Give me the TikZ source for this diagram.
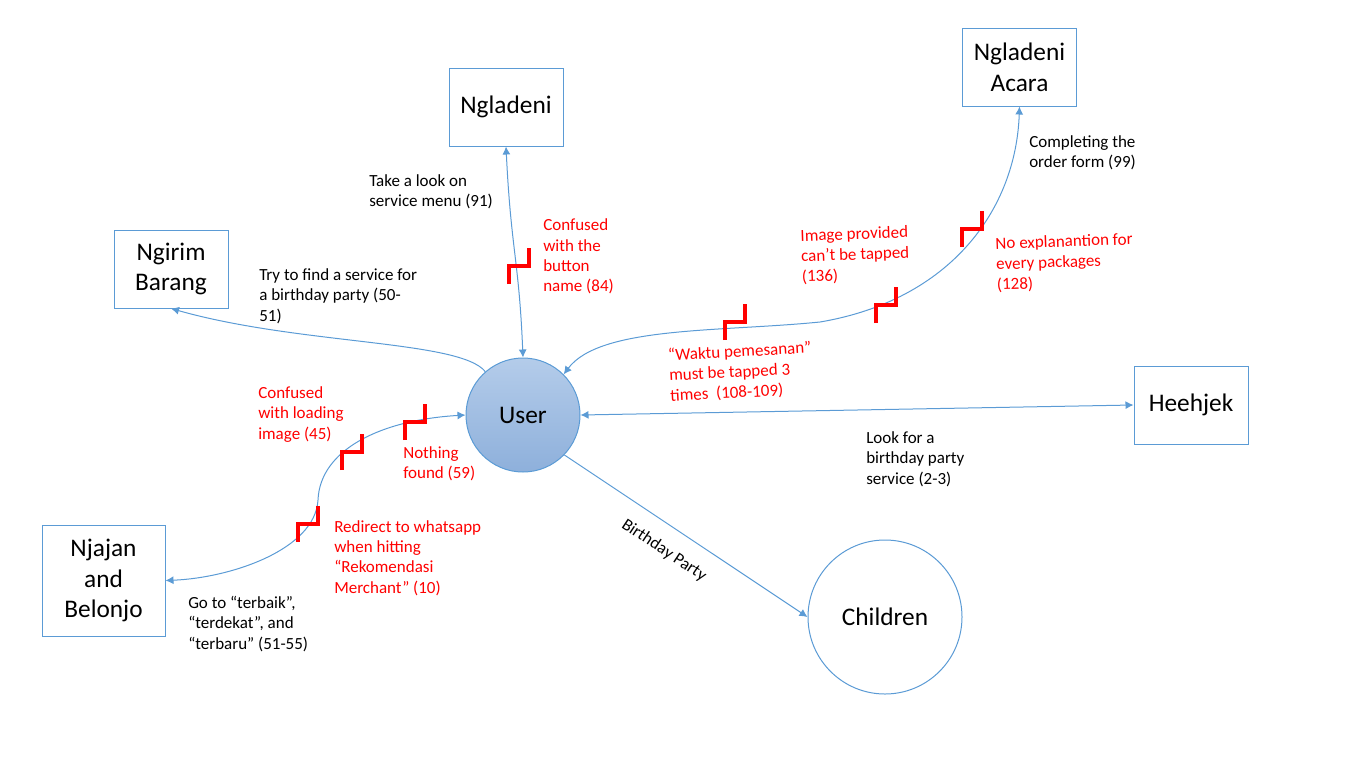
\documentclass[tikz,border=0pt]{standalone}
\usepackage{fontspec}
\setmainfont{Carlito}
\usepackage{tikz}
\usetikzlibrary{arrows.meta,positioning,calc}
\definecolor{uxblue}{HTML}{5B9BD5}
\definecolor{uxtop}{HTML}{B4CCEA}
\definecolor{uxbottom}{HTML}{8EB0DB}
\definecolor{uxred}{HTML}{FF0000}
\tikzset{
  uxbox/.style={draw=uxblue,line width=0.75pt,fill=white,font=\fontsize{19}{23}\selectfont,minimum width=85.5pt,minimum height=58.5pt,align=center,inner sep=2pt},
  uxcircle/.style={circle,draw=uxblue,line width=0.75pt,font=\fontsize{19}{23}\selectfont,inner sep=2pt},
  uxlink/.style={draw=uxblue,line width=0.75pt,->},
  uxboth/.style={draw=uxblue,line width=0.75pt,<->},
  uxnote/.style={font=\fontsize{12.75}{15.3}\selectfont,align=left,inner sep=0pt,anchor=west},
  uxissue/.style={uxnote,text=uxred},
  uxbreak/.pic={\draw[uxred,line width=3pt] (-10,18) -- (-10,0) -- (10,0) -- (10,-18);}
}
\begin{document}
\begin{tikzpicture}[x=0.75pt,y=-0.75pt,>={Latex[length=6pt,width=6pt]}]
\useasboundingbox (0,0) rectangle (1366,768);
% pages
\node[uxbox] (ngladeni) at (506,107) {Ngladeni};
\node[uxbox] (acara) at (1019.5,67) {Ngladeni\\Acara};
\node[uxbox] (ngirim) at (171,269) {Ngirim\\Barang};
\node[uxbox] (heehjek) at (1191,405) {Heehjek};
\node[uxbox,minimum width=92.25pt,minimum height=83.25pt] (njajan) at (103.5,580.5) {Njajan\\and\\Belonjo};
\node[uxcircle,top color=uxtop,bottom color=uxbottom,minimum size=85.5pt] (user) at (523,415) {User};
\node[uxcircle,fill=white,minimum size=115.5pt] (children) at (885,617) {Children};
% flows
\draw[uxboth] (user.north) .. controls (519,260) and (511,250) .. (ngladeni.south);
\draw[uxboth] (acara.south) .. controls (1016,210) and (950,300) .. (820,322) .. controls (720,332) and (600,326) .. (user.45);
\draw[uxlink] (user.131) .. controls (460,340) and (300,345) .. (ngirim.south);
\draw[uxboth] (user.east) -- (heehjek.west);
\draw[uxboth] (user.west) .. controls (380,420) and (320,450) .. (318,500) .. controls (315,550) and (230,578) .. (njajan.east);
\draw[uxlink] (user.-44) -- node[pos=0.465,sloped,below=9pt,font=\fontsize{12.75}{15.3}\selectfont] (bday) {Birthday Party} (children.west);
% breakdowns
\pic at (519,266) {uxbreak};
\pic at (415,422) {uxbreak};
\pic at (352,452) {uxbreak};
\pic at (308,524) {uxbreak};
\pic at (735,322) {uxbreak};
\pic at (886,305) {uxbreak};
\pic at (972,229) {uxbreak};
% notes
\node[uxnote] (look) at (369,191.5) {Take a look on\\service menu (91)};
\node[uxnote] (find) at (259,296) {Try to find a service for\\a birthday party (50-\\51)};
\node[uxnote] (complete) at (1029,152.5) {Completing the\\order form (99)};
\node[uxnote] (lookfor) at (866,459) {Look for a\\birthday party\\service (2-3)};
\node[uxnote] (goto) at (188,624) {Go to “terbaik”,\\“terdekat”, and\\“terbaru” (51-55)};
\node[uxissue] (conf84) at (543,256.5) {Confused\\with the\\button\\name (84)};
\node[uxissue,rotate=2] (img136) at (801,257) {Image provided\\can’t be tapped\\(136)};
\node[uxissue,rotate=2] (expl128) at (996,265) {No explanantion for\\every packages\\(128)};
\node[uxissue,rotate=3] (waktu) at (669,376) {“Waktu pemesanan”\\must be tapped 3\\times~ (108-109)};
\node[uxissue] (conf45) at (258,414.5) {Confused\\with loading\\image (45)};
\node[uxissue] (nothing) at (403,464) {Nothing\\found (59)};
\node[uxissue] (redirect) at (334,558) {Redirect to whatsapp\\when hitting\\“Rekomendasi\\Merchant” (10)};
\end{tikzpicture}
\end{document}
